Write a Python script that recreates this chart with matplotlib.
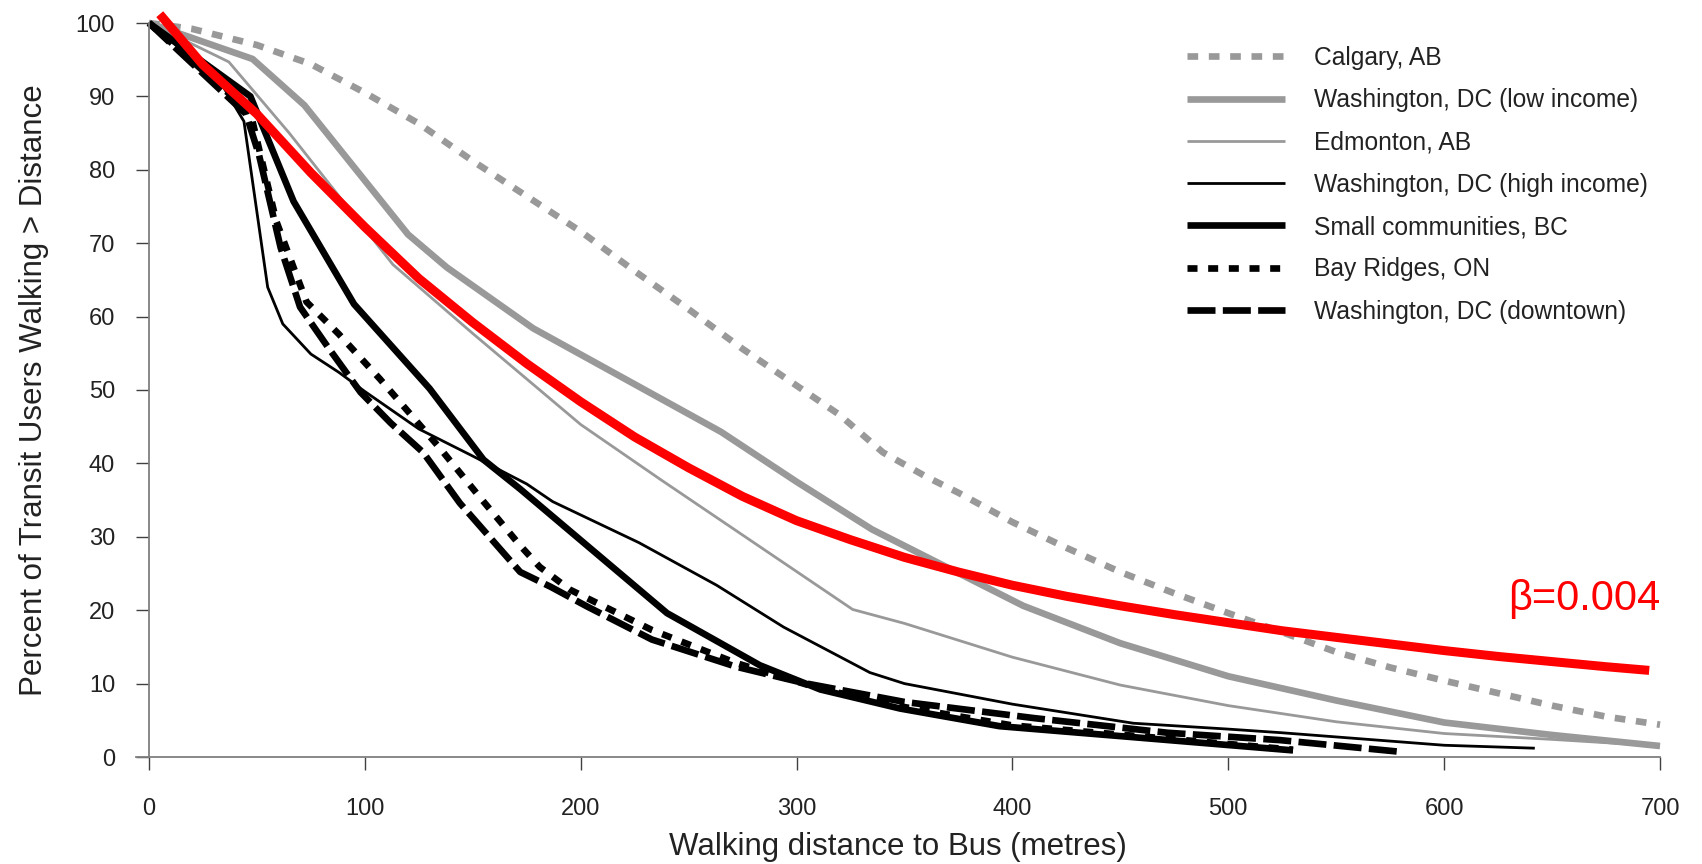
import matplotlib
matplotlib.use("Agg")
import matplotlib.pyplot as plt
from matplotlib import font_manager

# ---------------- data ----------------
calgary_x = [0, 20, 50, 75, 100, 125, 150, 175, 200, 225, 250, 275, 300, 320, 340, 360,
             375, 400, 425, 450, 475, 500, 525, 550, 575, 600, 625, 650, 675, 700]
calgary_y = [100, 99.2, 97.0, 94.4, 90.5, 86.3, 81.2, 76.4, 71.6, 66.2, 61.0, 55.6, 50.6, 46.6,
             41.5, 38.2, 36.0, 32.0, 28.5, 25.2, 22.3, 19.6, 17.0, 14.3, 12.2, 10.4, 8.7, 7.0, 5.5, 4.4]

dclow_x = [0, 48, 72, 120, 138, 178, 265, 300, 335, 405, 450, 500, 550, 600, 650, 700]
dclow_y = [100, 95.1, 88.8, 71.2, 66.7, 58.4, 44.3, 37.5, 31.0, 20.6, 15.5, 11.0, 7.7, 4.7, 3.0, 1.5]

edm_x = [0, 37, 65, 113, 150, 200, 237, 326, 350, 400, 450, 500, 550, 600, 650, 700]
edm_y = [100, 94.7, 85.0, 67.1, 57.7, 45.3, 37.8, 20.1, 18.2, 13.6, 9.8, 7.0, 4.8, 3.2, 2.4, 1.5]

dchigh_x = [0, 33, 44, 55, 62, 75, 88, 100, 125, 150, 175, 187, 227, 263, 294, 334, 350,
            400, 456, 500, 525, 600, 642]
dchigh_y = [100, 92.0, 86.6, 64.0, 59.0, 54.9, 52.4, 49.8, 44.7, 41.0, 37.2, 34.8, 29.2, 23.4,
            17.7, 11.5, 10.0, 7.2, 4.6, 3.8, 3.3, 1.6, 1.2]

smallbc_x = [0, 47, 67, 95, 130, 155, 172, 240, 283, 311, 348, 394, 456, 530]
smallbc_y = [100, 90.0, 75.7, 61.7, 50.2, 40.5, 36.5, 19.6, 12.5, 9.2, 6.6, 4.2, 2.7, 0.9]

bay_x = [0, 47, 59, 67, 73, 88, 107, 135, 153, 172, 181, 195, 233, 272, 311, 348, 400, 460, 530]
bay_y = [100, 87.8, 73.0, 66.7, 62.0, 57.6, 51.5, 42.0, 35.5, 28.8, 25.9, 22.8, 17.3, 12.8,
         9.3, 6.9, 4.3, 2.8, 1.0]

dcdown_x = [0, 45, 51, 61, 70, 83, 98, 112, 127, 144, 172, 186, 203, 233, 272, 303, 350,
            410, 472, 524, 580]
dcdown_y = [100, 87.6, 82.0, 69.4, 61.3, 55.8, 49.7, 45.5, 41.5, 34.6, 25.2, 23.2, 20.5, 16.0,
            12.3, 10.1, 7.5, 5.3, 3.3, 2.3, 0.7]

model_x = [5, 25, 50, 75, 100, 125, 150, 175, 200, 225, 250, 275, 300, 325, 350, 375, 400,
           425, 450, 475, 500, 525, 550, 575, 600, 625, 650, 675, 695]
model_y = [101.2, 94.3, 87.6, 79.6, 72.2, 65.2, 59.2, 53.6, 48.4, 43.6, 39.4, 35.5, 32.2, 29.6,
           27.2, 25.2, 23.4, 21.9, 20.6, 19.4, 18.3, 17.2, 16.3, 15.4, 14.5, 13.7, 13.0, 12.3, 11.8]

labels = ["Calgary, AB", "Washington, DC (low income)", "Edmonton, AB",
          "Washington, DC (high income)", "Small communities, BC", "Bay Ridges, ON",
          "Washington, DC (downtown)"]
x_ticks = [0, 100, 200, 300, 400, 500, 600, 700]
y_ticks = [0, 10, 20, 30, 40, 50, 60, 70, 80, 90, 100]
annot = "β=0.004"

# ---------------- style ----------------
names = {f.name for f in font_manager.fontManager.ttflist}
main_font = "Liberation Sans" if "Liberation Sans" in names else "DejaVu Sans"
plt.rcParams["font.family"] = [main_font, "DejaVu Sans"]

GRAY = "#999999"
THICK = 4.8
THIN = 2.0
TXT = "#222222"

fig = plt.figure(figsize=(17.02, 8.64), dpi=100)
ax = fig.add_axes([136 / 1702, 107 / 864, 1524 / 1702, 734 / 864])

common = dict(solid_capstyle="butt", dash_capstyle="butt", clip_on=False)
h = []
h += ax.plot(calgary_x, calgary_y, color=GRAY, lw=THICK, dashes=(1.6, 1.6), label=labels[0], **common)
h += ax.plot(dclow_x, dclow_y, color=GRAY, lw=THICK, label=labels[1], **common)
h += ax.plot(edm_x, edm_y, color=GRAY, lw=THIN, label=labels[2], **common)
h += ax.plot(dchigh_x, dchigh_y, color="black", lw=THIN, label=labels[3], **common)
h += ax.plot(smallbc_x, smallbc_y, color="black", lw=THICK, label=labels[4], **common)
h += ax.plot(bay_x, bay_y, color="black", lw=THICK, dashes=(1.5, 1.6), label=labels[5], **common)
h += ax.plot(dcdown_x, dcdown_y, color="black", lw=THICK, dashes=(4.2, 1.1), label=labels[6], **common)
ax.plot(model_x, model_y, color="#ff0000", lw=6.5, solid_capstyle="butt",
        solid_joinstyle="round", clip_on=False)

ax.text(700, 20, annot, color="#ff0000", fontsize=30, ha="right", va="baseline",
        family=[main_font, "DejaVu Sans"])

ax.set_xlim(-6, 700)
ax.set_ylim(0, 100)
ax.set_xticks(x_ticks)
ax.set_yticks(y_ticks)
for s in ["top", "right"]:
    ax.spines[s].set_visible(False)
ax.spines["left"].set_position(("data", 0))
for s in ["left", "bottom"]:
    ax.spines[s].set_color("#7f7f7f")
    ax.spines[s].set_linewidth(1.3)
ax.tick_params(axis="both", direction="out", length=9.4, width=1.0, color="#404040",
               labelsize=17, labelcolor=TXT)
ax.tick_params(axis="x", pad=20)
ax.tick_params(axis="y", pad=15)

ax.set_xlabel("Walking distance to Bus (metres)", fontsize=22.5, color=TXT, labelpad=9)
ax.set_ylabel("Percent of Transit Users Walking > Distance", fontsize=22.5, color=TXT,
              labelpad=19)

leg = ax.legend(handles=h, loc="upper left", bbox_to_anchor=(1177.5 / 1702, 1 - 36 / 864),
                bbox_transform=fig.transFigure, frameon=False, fontsize=17.7,
                handlelength=3.97, handletextpad=1.18, labelspacing=0.745, borderaxespad=0)
for t in leg.get_texts():
    t.set_color(TXT)

fig.savefig("out.png", dpi=100)
